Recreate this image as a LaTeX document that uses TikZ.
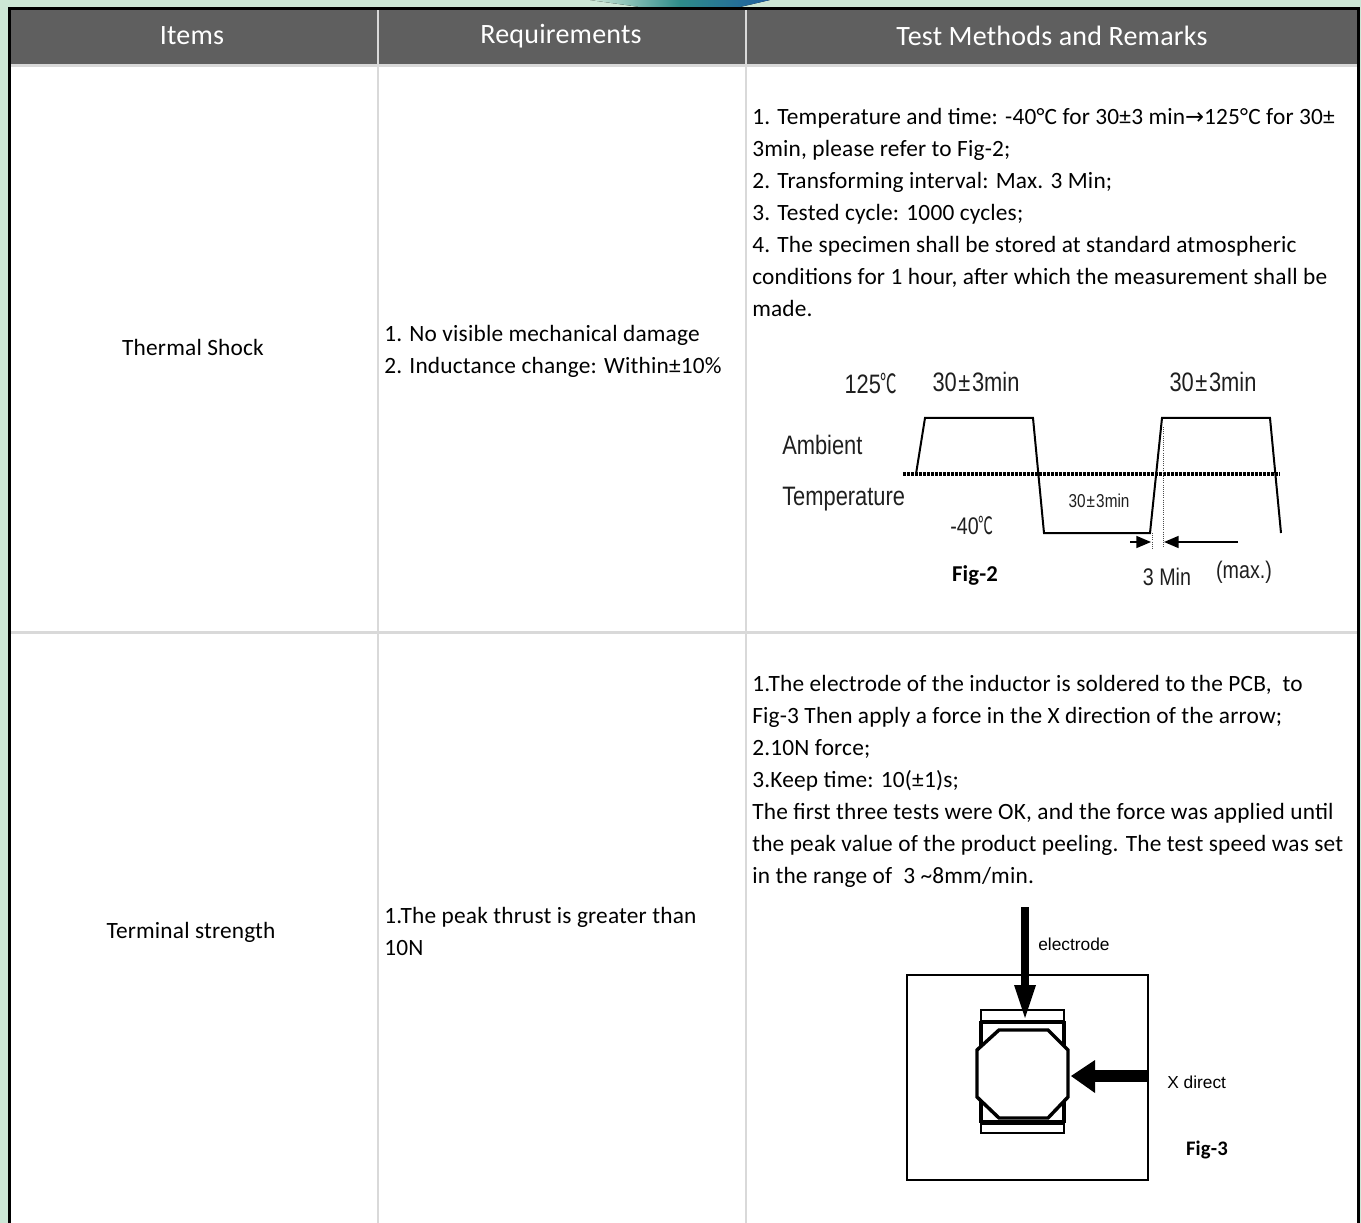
\documentclass[tikz,border=0pt]{standalone}
\usepackage{fontspec}
\setmainfont[LetterSpace=0.8]{Carlito}
\newfontfamily\narrowf[FakeStretch=0.82]{Liberation Sans}
\newfontfamily\cjkf[FakeStretch=0.62]{Noto Sans CJK SC}
\newfontfamily\arialf{Liberation Sans}
\newfontfamily\symf{DejaVu Sans}
\usetikzlibrary{arrows.meta}
\definecolor{hdr}{HTML}{5F5F5F}
\definecolor{gridc}{HTML}{D9D9D9}
\definecolor{bgg}{HTML}{CDE7D6}
\definecolor{wavea}{HTML}{2E8C8A}
\definecolor{waveb}{HTML}{1F5FA0}
\newcommand{\degc}{{\cjkf ℃}}
\newcommand{\pmn}{\kern0.06em±\kern0.06em}
\begin{document}
\begin{tikzpicture}[x=0.75pt,y=-0.75pt,
  hdrtext/.style={text=white,inner sep=0pt,font=\fontsize{21pt}{24pt}\selectfont},
  cell/.style={inner sep=0pt,align=left,anchor=north west,font=\fontsize{17.5pt}{24pt}\selectfont},
  itemtext/.style={inner sep=0pt,anchor=base,font=\fontsize{17.5pt}{24pt}\selectfont},
  gridline/.style={draw=gridc},
  lbl/.style={inner sep=0pt,text=black!88,font=\narrowf\fontsize{20pt}{24pt}\selectfont},
  wave/.style={line width=1.5pt,line join=miter},
  dotline/.style={line width=2.4pt,dash pattern=on 2pt off 1pt},
  figlbl/.style={inner sep=0pt,font=\bfseries\fontsize{17pt}{20pt}\selectfont},
  aria/.style={inner sep=0pt,font=\arialf\fontsize{13pt}{15pt}\selectfont},
  gap/.style={line width=1.3pt,-{Triangle[length=11pt,width=9pt]}}]
\useasboundingbox (0,0) rectangle (1361,1223);
% background
\fill[bgg] (0,0) rectangle (1361,1223);
\fill[left color=bgg,right color=waveb,middle color=wavea] (590,0) -- (770,0) -- (740,7) -- (640,7) -- cycle;
% table
\fill[white] (9.5,8.5) rectangle (1358.5,1223);
\fill[hdr] (9.5,8.5) rectangle (1358.5,65);
\draw[gridline,line width=2.25pt] (11,66) -- (1357,66);
\draw[gridline,line width=1.8pt] (378,10) -- (378,1223);
\draw[gridline,line width=1.8pt] (746,10) -- (746,1223);
\draw[gridline,line width=2.25pt] (11,632) -- (1357,632);
\draw[black,line width=2.25pt] (9.5,1223) -- (9.5,8.5) -- (1358.5,8.5) -- (1358.5,1223);
% header
\node[hdrtext] (h1) at (192,36) {Items};
\node[hdrtext] (h2) at (561,36) {Requirements};
\node[hdrtext] (h3) at (1052,36) {Test Methods and Remarks};
% row 1
\node[itemtext] (i1) at (193,356) {Thermal Shock};
\node[cell] (r1) at (384,318.6) {\strut 1. No visible mechanical damage\\2. Inductance change: Within±10\%};
\node[cell] (m1) at (752,101.6) {\strut 1. Temperature and time: -40°C for 30±3 min{\symf\fontsize{17pt}{17pt}\selectfont →}125°C for 30±\\3min, please refer to Fig-2;\\2. Transforming interval: Max. 3 Min;\\3. Tested cycle: 1000 cycles;\\4. The specimen shall be stored at standard atmospheric\\conditions for 1 hour, after which the measurement shall be\\made.};
% Fig-2
\draw[dotline] (903,474) -- (1280,474);
\draw[wave] (916,474) -- (925,418) -- (1033,418) -- (1044,533) -- (1150,533) -- (1162,418) -- (1270,418) -- (1281,533);
\draw[black!70,line width=0.6pt,densely dotted] (1163,427) -- (1163,548);
\draw[black!70,line width=0.6pt,densely dotted] (1152,533) -- (1152,548);
\coordinate (al0) at (1130,542);
\coordinate (al1) at (1151,542);
\coordinate (ar0) at (1238,542);
\coordinate (ar1) at (1164,542);
\draw[gap] (al0) -- (al1);
\draw[gap] (ar0) -- (ar1);
\node[lbl] (t125) at (871,384) {125\degc};
\node[lbl] (tp1) at (976,382) {30\pmn3min};
\node[lbl] (tp2) at (1213,382) {30\pmn3min};
\node[lbl,anchor=west] (amb) at (782,445) {Ambient};
\node[lbl,anchor=west] (tmp) at (782,499) {Temperature};
\node[lbl,font=\narrowf\fontsize{18pt}{20pt}\selectfont] (tm40) at (972,525) {-40\degc};
\node[lbl,font=\narrowf\fontsize{14pt}{16pt}\selectfont] (tp3) at (1099,501) {30\pmn3min};
\node[lbl,font=\narrowf\fontsize{18pt}{20pt}\selectfont] (t3m) at (1167,577) {3 Min};
\node[lbl,font=\narrowf\fontsize{18pt}{20pt}\selectfont] (tmax) at (1244,572) {(max.)};
\node[figlbl] (f2) at (975,575) {Fig-2};
% row 2
\node[itemtext] (i2) at (191,938) {Terminal strength};
\node[cell] (r2) at (384,900.6) {\strut 1.The peak thrust is greater than\\10N};
\node[cell] (m2) at (752,668.6) {\strut 1.The electrode of the inductor is soldered to the PCB,\ \ to\\Fig-3 Then apply a force in the X direction of the arrow;\\2.10N force;\\3.Keep time: 10(±1)s;\\The first three tests were OK, and the force was applied until\\the peak value of the product peeling. The test speed was set\\in the range of\ \ 3 \textasciitilde8mm/min.};
% Fig-3
\draw[line width=1.5pt] (907,975) rectangle (1148,1180);
\draw[line width=1.2pt] (981,1010) rectangle (1064,1021);
\draw[line width=1.2pt] (981,1124) rectangle (1064,1133);
\draw[line width=2.6pt] (981,1022) -- (1064,1022);
\draw[line width=2.6pt] (981,1122) -- (1064,1122);
\draw[line width=2.6pt] (981,1021) -- (981,1123);
\draw[line width=2.6pt] (1064,1021) -- (1064,1123);
\draw[line width=2.6pt,fill=white] (999,1030) -- (1048,1030) -- (1068,1050) -- (1068,1097) -- (1048,1118) -- (999,1118) -- (977,1097) -- (977,1050) -- cycle;
\fill (1021,907) rectangle (1029,986);
\fill (1014,985) -- (1036,985) -- (1025,1018) -- cycle;
\fill (1094,1070) rectangle (1148,1082);
\fill (1095,1060) -- (1095,1093) -- (1071,1076) -- cycle;
\node[aria,anchor=west] (el) at (1038,944) {electrode};
\node[aria,anchor=west] (xd) at (1167,1082) {X direct};
\node[figlbl,font=\bfseries\fontsize{15.5pt}{18pt}\selectfont] (f3) at (1207,1150) {Fig-3};
\end{tikzpicture}
\end{document}
